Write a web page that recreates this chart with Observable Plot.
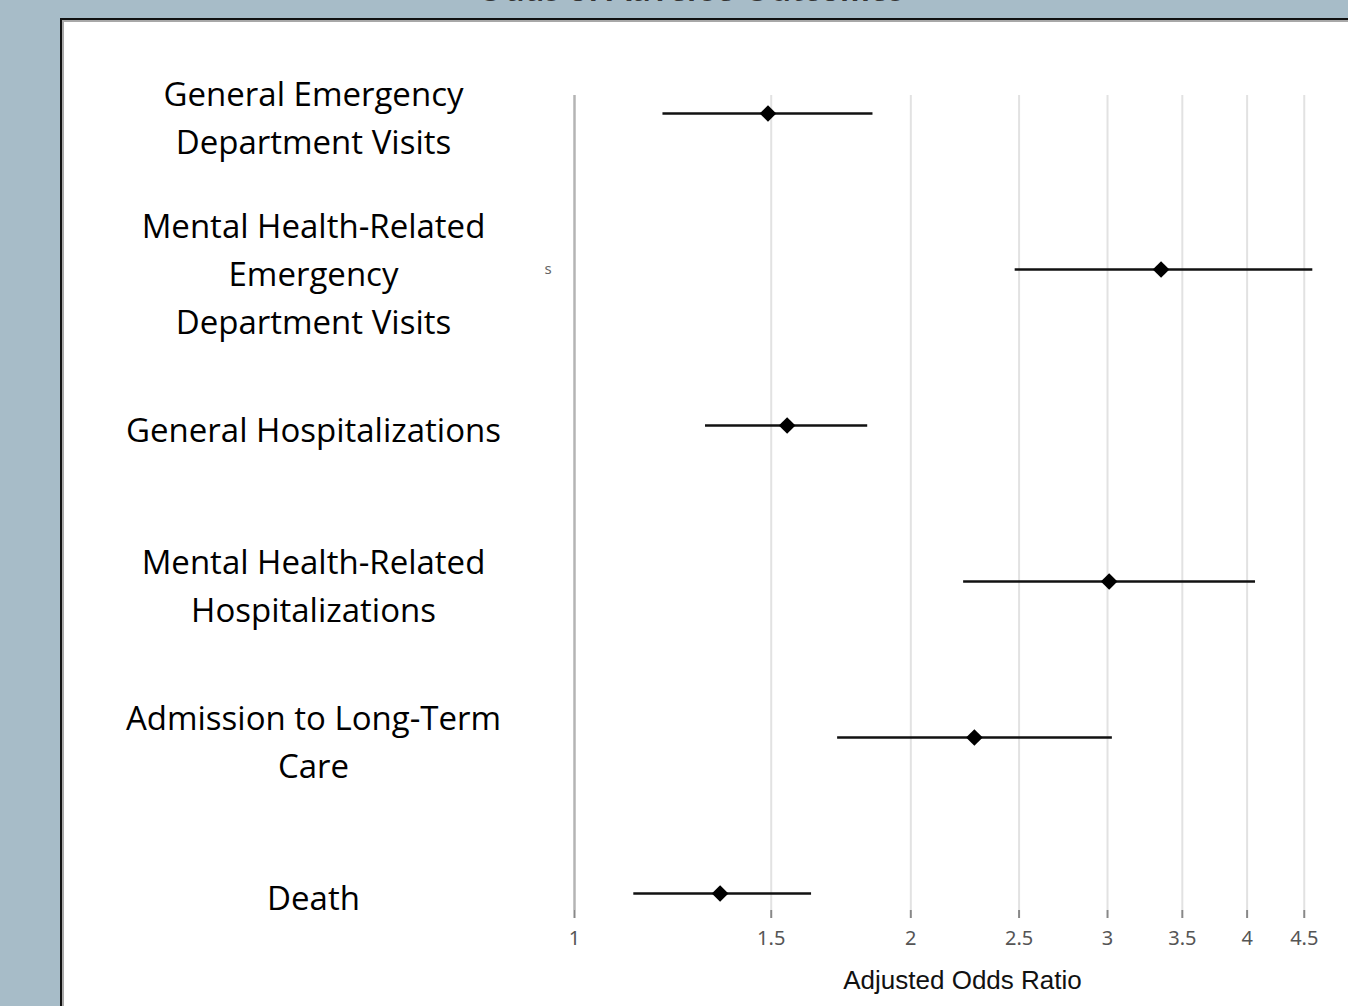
<!DOCTYPE html>
<html>
<head>
<meta charset="utf-8">
<script src="https://cdn.jsdelivr.net/npm/d3@7"></script>
<script src="https://cdn.jsdelivr.net/npm/@observablehq/plot@0.6"></script>
<style>
  html, body { margin: 0; padding: 0; }
  body { width: 1348px; height: 1006px; overflow: hidden; background: #a7bcc8; position: relative; }
  #title { position: absolute; left: 340px; width: 700px; top: -30px; text-align: center;
           font: bold 35px/34px Lato, sans-serif; color: #333; white-space: nowrap; }
  #panel { position: absolute; left: 60px; top: 18px; width: 1400px; height: 1100px; background: #fff;
           border-top: 2px solid #111; border-left: 2px solid #111; box-shadow: inset 2px 2px 0 #a8a8a8; }
  #chart { position: absolute; left: 0; top: 0; }
</style>
</head>
<body>
<div id="title">Odds of Adverse Outcomes</div>
<div id="panel"></div>
<div id="chart"></div>
<script>
const categories = [
  "General Emergency Department Visits",
  "Mental Health-Related Emergency Department Visits",
  "General Hospitalizations",
  "Mental Health-Related Hospitalizations",
  "Admission to Long-Term Care",
  "Death"
];
const rowLabels = [
  "General Emergency\nDepartment Visits",
  "Mental Health-Related\nEmergency\nDepartment Visits",
  "General Hospitalizations",
  "Mental Health-Related\nHospitalizations",
  "Admission to Long-Term\nCare",
  "Death"
];
const estimate = [1.49, 3.35, 1.55, 3.01, 2.28, 1.35];
const lower    = [1.20, 2.48, 1.31, 2.23, 1.72, 1.13];
const upper    = [1.85, 4.58, 1.83, 4.07, 3.03, 1.63];
const xTicks = [1, 1.5, 2, 2.5, 3, 3.5, 4, 4.5];
const xLabel = "Adjusted Odds Ratio";
const clippedFragment = "s";

const data = categories.map((c, i) => ({
  cat: c, label: rowLabels[i], est: estimate[i], lo: lower[i], hi: upper[i]
}));

const chart = Plot.plot({
  width: 1350,
  height: 1006,
  marginLeft: 574,
  marginRight: 0,
  marginTop: 95,
  marginBottom: 96,
  style: { background: "transparent", maxWidth: "none", overflow: "visible", fontSize: "20px" },
  x: { type: "log", domain: [1, 4.95] },
  y: { type: "point", domain: categories, padding: 0.11, axis: null },
  marks: [
    Plot.gridX(xTicks.filter(t => t !== 1), { stroke: "#e2e2e2", strokeOpacity: 1, strokeWidth: 2 }),
    Plot.ruleX([1], { stroke: "#b4b4b4", strokeWidth: 2.5 }),
    Plot.axisX({
      ticks: xTicks, tickFormat: d => String(d), tickSize: 8, tickPadding: 12,
      stroke: "#888", strokeWidth: 2, fontSize: 20, fill: "#555",
      fontFamily: "Noto Sans", label: null
    }),
    Plot.text([xLabel], {
      frameAnchor: "bottom", dy: 70, lineAnchor: "middle", text: d => d,
      fontSize: 26, fill: "#111", fontFamily: "Liberation Sans"
    }),
    Plot.ruleY(data, { y: "cat", x1: "lo", x2: "hi", stroke: "#111", strokeWidth: 2.5 }),
    Plot.dot(data, { x: "est", y: "cat", symbol: "diamond2", r: 7.5, fill: "#000", stroke: "none" }),
    Plot.text(data, {
      y: "cat", text: "label", frameAnchor: "left", dx: -261, dy: 1,
      textAnchor: "middle", lineAnchor: "middle", lineHeight: 1.45,
      fontSize: 33, fill: "#000", fontFamily: "Open Sans"
    }),
    Plot.text([categories[1]], {
      y: d => d, text: () => clippedFragment, frameAnchor: "left", dx: -30,
      fontSize: 15, fill: "#666", fontFamily: "Noto Sans"
    })
  ]
});
document.getElementById("chart").appendChild(chart);
</script>
</body>
</html>
